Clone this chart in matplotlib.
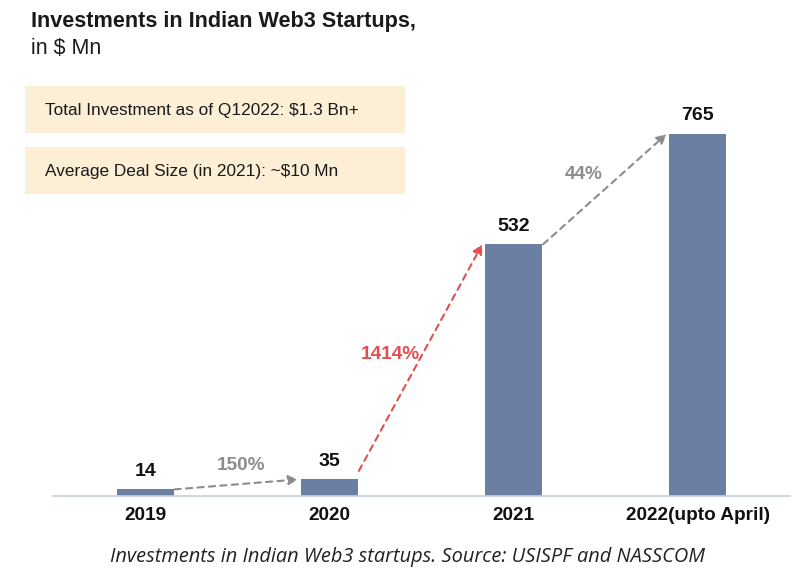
import matplotlib.pyplot as plt
from matplotlib.patches import Rectangle

years = ['2019', '2020', '2021', '2022(upto April)']
invest = [14, 35, 532, 765]
growth = ['150%', '1414%', '44%']
growth_color = ['#8c8c8c', '#e05050', '#8c8c8c']
notes = ['Total Investment as of Q12022: $1.3 Bn+', 'Average Deal Size (in 2021): ~$10 Mn']

W, H = 808, 582
fig = plt.figure(figsize=(W / 100, H / 100), dpi=100)
plt.rcParams['font.family'] = ['Liberation Sans', 'DejaVu Sans']

# axes placed in pixel terms
ax = fig.add_axes([53 / W, (H - 496) / H, (790 - 53) / W, 396 / H])
x = list(range(len(years)))
ax.bar(x, invest, width=0.31, color='#6b7fa3', zorder=2)
ax.set_xlim(-0.5, 3.5)
ax.set_ylim(0, 837)
for s in ['top', 'right', 'left']:
    ax.spines[s].set_visible(False)
ax.spines['bottom'].set_color('#c9d1dd')
ax.spines['bottom'].set_linewidth(1.2)
ax.set_yticks([])
ax.set_xticks(x)
ax.set_xticklabels(years, fontsize=13.7, fontweight='bold', color='#111111')
ax.tick_params(axis='x', length=0, pad=8)

for i, v in enumerate(invest):
    ax.annotate(str(v), (i, v), xytext=(0, 7), textcoords='offset points',
                ha='center', va='bottom', fontsize=14, fontweight='bold', color='#111111')

# growth arrows between bars
label_off = [(3.6, 13.5), (-21.5, 2), (-15, 10.5)]
for i in range(len(growth)):
    x0, y0 = i + 0.16, invest[i]
    x1, y1 = i + 0.83, invest[i + 1]
    if i == 1:
        y0 = invest[i] + 18
    ax.annotate('', xy=(x1, y1), xytext=(x0, y0),
                arrowprops=dict(arrowstyle='-|>', color=growth_color[i], lw=1.5,
                                linestyle=(0, (3, 2.5)), mutation_scale=14,
                                shrinkA=0, shrinkB=0))
    ax.annotate(growth[i], ((x0 + x1) / 2, (y0 + y1) / 2), xytext=label_off[i],
                textcoords='offset points', ha='center', va='center',
                fontsize=13.7, fontweight='bold', color=growth_color[i])

# title
fig.text(31 / W, 1 - 22 / H, 'Investments in Indian Web3 Startups,', fontsize=15.6,
         fontweight='bold', color='#1a1a1a', va='center')
fig.text(31 / W, 1 - 48 / H, 'in $ Mn', fontsize=15.5, color='#1a1a1a', va='center')

# note boxes
box_y = [86, 147]
for n, yb in zip(notes, box_y):
    fig.patches.append(Rectangle((25 / W, 1 - (yb + 47) / H), 380 / W, 47 / H,
                                 transform=fig.transFigure, facecolor='#fdeed6',
                                 edgecolor='none', zorder=0))
    fig.text(45 / W, 1 - (yb + 24) / H, n, fontsize=12.4, color='#1a1a1a', va='center')

fig.text(408 / W, 1 - 557 / H, 'Investments in Indian Web3 startups. Source: USISPF and NASSCOM',
         fontsize=14.4, style='italic', family=['Open Sans', 'DejaVu Sans'],
         color='#222222', ha='center', va='center')

fig.savefig('out.png', dpi=100)
